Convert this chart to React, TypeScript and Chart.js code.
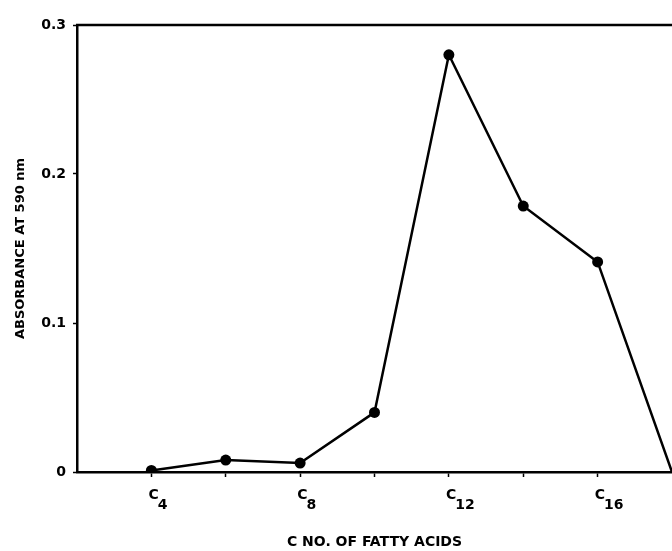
import React, { useEffect, useRef } from "react";
import { Chart, registerables } from "chart.js";

Chart.register(...registerables);

const carbonNumbers = [4, 6, 8, 10, 12, 14, 16, 18];
const absorbance = [0.001, 0.008, 0.006, 0.040, 0.280, 0.1785, 0.141, 0];
const xTickValues = [4, 6, 8, 10, 12, 14, 16];
const xLabeledTicks = [4, 8, 12, 16];
const xTickSubscripts = ["4", "8", "12", "16"];
const yTickValues = [0, 0.1, 0.2, 0.3];
const yTickLabels = ["0", "0.1", "0.2", "0.3"];
const xTitle = "C NO. OF FATTY ACIDS";
const yTitle = "ABSORBANCE AT 590 nm";

const FONT = "'DejaVu Sans', 'Liberation Sans', sans-serif";

const frameAndLabels = {
  id: "frameAndLabels",
  afterDraw(chart: any) {
    const { ctx, chartArea } = chart;
    ctx.save();
    // top frame line
    ctx.strokeStyle = "#000";
    ctx.lineWidth = 2.5;
    ctx.beginPath();
    ctx.moveTo(chartArea.left - 1, chartArea.top);
    ctx.lineTo(chartArea.right, chartArea.top);
    ctx.stroke();
    // x tick labels: "C" with subscript carbon number
    const xs = chart.scales.x;
    ctx.fillStyle = "#000";
    ctx.textBaseline = "middle";
    ctx.textAlign = "left";
    xLabeledTicks.forEach((v, i) => {
      const px = xs.getPixelForValue(v) - 3;
      ctx.font = `bold 14px ${FONT}`;
      ctx.fillText("C", px, 495);
      const wC = ctx.measureText("C").width;
      ctx.font = `bold 14px ${FONT}`;
      ctx.fillText(xTickSubscripts[i], px + wC - 1, 505);
    });
    ctx.restore();
  },
};

export default function App() {
  const ref = useRef<HTMLCanvasElement | null>(null);
  useEffect(() => {
    if (!ref.current) return;
    const chart = new Chart(ref.current, {
      type: "line",
      data: {
        datasets: [
          {
            data: carbonNumbers.map((c, i) => ({ x: c, y: absorbance[i] })),
            borderColor: "#000",
            backgroundColor: "#000",
            borderWidth: 2.5,
            pointRadius: carbonNumbers.map((_, i) => (i === carbonNumbers.length - 1 ? 0 : 5.5)),
            pointBackgroundColor: "#000",
            pointBorderWidth: 0,
            tension: 0,
            fill: false,
          },
        ],
      },
      plugins: [frameAndLabels],
      options: {
        animation: false,
        responsive: false,
        devicePixelRatio: 1,
        layout: { autoPadding: false, padding: { top: 25, right: 0, left: 0, bottom: 0 } },
        plugins: { legend: { display: false }, tooltip: { enabled: false } },
        scales: {
          x: {
            type: "linear",
            min: 2,
            max: 18,
            afterBuildTicks: (scale: any) => {
              scale.ticks = xTickValues.map((v) => ({ value: v }));
            },
            afterFit: (scale: any) => {
              scale.height = 79;
              scale.paddingRight = 0;
              scale.paddingLeft = 0;
            },
            ticks: {
              display: false,
            },
            grid: {
              drawOnChartArea: false,
              drawTicks: true,
              tickLength: 5,
              tickWidth: 1.5,
              tickColor: "#000",
            },
            border: { color: "#000", width: 2.5 },
            title: {
              display: true,
              text: xTitle,
              color: "#000",
              font: { family: FONT, size: 14, weight: "bold" },
              padding: { top: 0, bottom: 0 },
            },
          },
          y: {
            type: "linear",
            min: 0,
            max: 0.3,
            afterBuildTicks: (scale: any) => {
              scale.ticks = yTickValues.map((v) => ({ value: v }));
            },
            afterFit: (scale: any) => {
              scale.width = 77;
            },
            ticks: {
              padding: 7,
              color: "#000",
              font: { family: FONT, size: 14, weight: "bold" },
              callback: (v: any) => {
                const idx = yTickValues.findIndex((t) => Math.abs(t - Number(v)) < 1e-9);
                return idx >= 0 ? yTickLabels[idx] : "";
              },
            },
            grid: {
              drawOnChartArea: false,
              drawTicks: true,
              tickLength: 4,
              tickWidth: 1.5,
              tickColor: "#000",
            },
            border: { color: "#000", width: 2.5 },
            title: {
              display: true,
              text: yTitle,
              color: "#000",
              font: { family: FONT, size: 13, weight: "bold" },
              padding: { top: 13, bottom: 0 },
            },
          },
        },
      },
    });
    return () => chart.destroy();
  }, []);
  return (
    <div style={{ position: "fixed", left: 0, top: 0, width: 672, height: 551, overflow: "hidden", background: "#fff" }}>
      <canvas ref={ref} width={672} height={551} />
    </div>
  );
}
